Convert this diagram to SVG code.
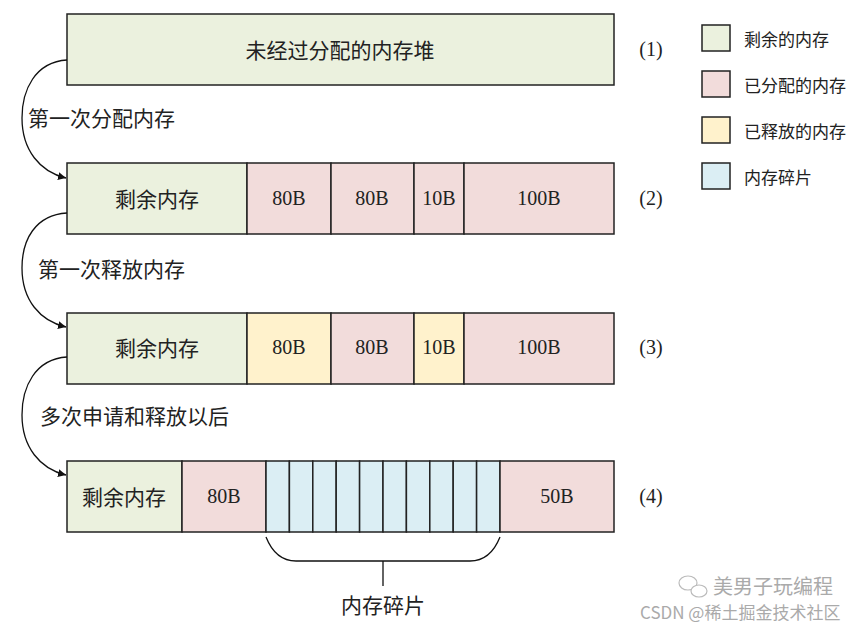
<svg xmlns="http://www.w3.org/2000/svg" width="865" height="626" viewBox="0 0 865 626">
<style>
.g{fill:#EBF1DE}.p{fill:#F2DCDB}.y{fill:#FFF2CC}.b{fill:#DBEEF4}
rect{stroke:#222;stroke-width:1.5}
.t{font-family:"Noto Sans CJK SC","Liberation Serif",serif;font-size:21px;fill:#222;text-anchor:middle;dominant-baseline:central}
.n{font-family:"Liberation Serif",serif;font-size:20px;fill:#222;text-anchor:middle;dominant-baseline:central}
.l{font-family:"Noto Sans CJK SC",sans-serif;font-size:21px;fill:#222;dominant-baseline:central}
.s{font-family:"Noto Sans CJK SC",sans-serif;font-size:17px;fill:#222;dominant-baseline:central}
.c{fill:none;stroke:#111;stroke-width:1.3}
</style>
<defs>
<marker id="ah" viewBox="0 0 10 10" refX="10" refY="5" markerWidth="8" markerHeight="8" orient="auto" markerUnits="userSpaceOnUse"><path d="M0,0L10,5L0,10z" fill="#111"/></marker>
</defs>
<g id="row1">
<rect class="g" x="67" y="14" width="547" height="71"/>
<text class="t" x="340" y="49">未经过分配的内存堆</text>
<text class="n" x="651" y="49">(1)</text>
</g>
<g id="row2">
<rect class="g" x="67" y="163" width="180" height="71"/>
<rect class="p" x="247" y="163" width="84" height="71"/>
<rect class="p" x="331" y="163" width="83" height="71"/>
<rect class="p" x="414" y="163" width="50" height="71"/>
<rect class="p" x="464" y="163" width="150" height="71"/>
<text class="t" x="157" y="198">剩余内存</text>
<text class="n" x="289" y="198">80B</text>
<text class="n" x="372" y="198">80B</text>
<text class="n" x="439" y="198">10B</text>
<text class="n" x="539" y="198">100B</text>
<text class="n" x="651" y="198">(2)</text>
</g>
<g id="row3">
<rect class="g" x="67" y="313" width="180" height="71"/>
<rect class="y" x="247" y="313" width="84" height="71"/>
<rect class="p" x="331" y="313" width="83" height="71"/>
<rect class="y" x="414" y="313" width="50" height="71"/>
<rect class="p" x="464" y="313" width="150" height="71"/>
<text class="t" x="157" y="347">剩余内存</text>
<text class="n" x="289" y="347">80B</text>
<text class="n" x="372" y="347">80B</text>
<text class="n" x="439" y="347">10B</text>
<text class="n" x="539" y="347">100B</text>
<text class="n" x="651" y="347">(3)</text>
</g>
<g id="row4">
<rect class="g" x="67" y="461" width="115" height="71"/>
<rect class="p" x="182" y="461" width="84" height="71"/>
<rect class="b" x="266" y="461" width="23.4" height="71"/>
<rect class="b" x="289.4" y="461" width="23.4" height="71"/>
<rect class="b" x="312.8" y="461" width="23.4" height="71"/>
<rect class="b" x="336.2" y="461" width="23.4" height="71"/>
<rect class="b" x="359.6" y="461" width="23.4" height="71"/>
<rect class="b" x="383" y="461" width="23.4" height="71"/>
<rect class="b" x="406.4" y="461" width="23.4" height="71"/>
<rect class="b" x="429.8" y="461" width="23.4" height="71"/>
<rect class="b" x="453.2" y="461" width="23.4" height="71"/>
<rect class="b" x="476.6" y="461" width="23.4" height="71"/>
<rect class="p" x="500" y="461" width="114" height="71"/>
<text class="t" x="124" y="496">剩余内存</text>
<text class="n" x="224" y="496">80B</text>
<text class="n" x="557" y="496">50B</text>
<text class="n" x="651" y="496">(4)</text>
</g>
<g id="fragment-brace">
<path class="c" d="M266,537 C272,552 282,561 296,561 L470,561 C484,561 494,552 500,537 M383,561 L383,586"/>
<text class="t" x="383" y="604">内存碎片</text>
</g>
<g id="connectors">
<path class="c" d="M67,60 C35,62 22,90 22,118 C22,150 40,172 66,178" marker-end="url(#ah)"/>
<path class="c" d="M67,213 C35,215 22,240 22,268 C22,300 40,321 66,327" marker-end="url(#ah)"/>
<path class="c" d="M67,357 C35,359 22,387 22,415 C22,447 40,469 66,475" marker-end="url(#ah)"/>
<text class="l" x="28" y="117">第一次分配内存</text>
<text class="l" x="38" y="268">第一次释放内存</text>
<text class="l" x="40" y="415">多次申请和释放以后</text>
</g>
<g id="legend">
<rect class="g" x="702" y="25" width="28" height="26"/>
<rect class="p" x="702" y="71" width="28" height="26"/>
<rect class="y" x="702" y="117" width="28" height="26"/>
<rect class="b" x="702" y="163" width="28" height="26"/>
<text class="s" x="744" y="38">剩余的内存</text>
<text class="s" x="744" y="84">已分配的内存</text>
<text class="s" x="744" y="130">已释放的内存</text>
<text class="s" x="744" y="176">内存碎片</text>
</g>
<g id="watermark" fill="none" stroke="#bbb" stroke-width="1.2">
<ellipse cx="688" cy="583" rx="9" ry="7"/>
<ellipse cx="699" cy="591" rx="8" ry="6" fill="#fff"/>
<text x="713" y="585" style="font-family:'Noto Sans CJK SC',sans-serif;font-size:20px;fill:#aaa;stroke:none;dominant-baseline:central">美男子玩编程</text>
<text x="640" y="611" style="font-family:'Noto Sans CJK SC',sans-serif;font-size:17px;fill:#aaa;stroke:none;dominant-baseline:central">CSDN @稀土掘金技术社区</text>
</g>
</svg>
